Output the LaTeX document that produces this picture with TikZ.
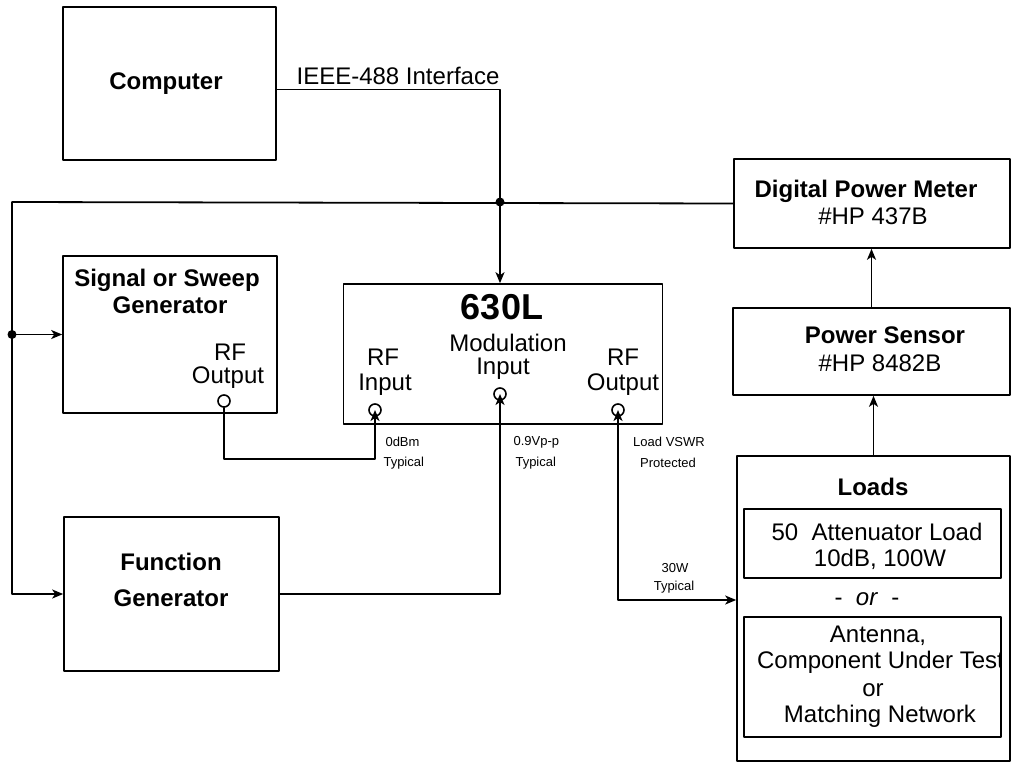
\documentclass[tikz,border=0pt]{standalone}
\usepackage{fontspec}
\setmainfont{Liberation Sans}
\usetikzlibrary{arrows.meta}
\tikzset{
	box/.style={draw,line width=1.6pt,inner sep=0pt},
	port/.style={draw,circle,line width=1.6pt,minimum size=12pt,inner sep=0pt,fill=white},
	wire/.style={line width=1.8pt},
	ttl/.style={font=\fontsize{24}{26}\selectfont\bfseries},
	txt/.style={font=\fontsize{24}{26}\selectfont},
	note/.style={font=\fontsize{13}{14}\selectfont},
}
\begin{document}
\begin{tikzpicture}[line join = round, line cap = round,>={Stealth[length=11pt,width=9pt,inset=3pt]},x=1pt,y=-1pt]
	\useasboundingbox (0,0) rectangle (1012,763);
	% instruments
	\node[box,minimum width=213pt,minimum height=153pt] (comp) at (169.5,83.5) {};
	\node[box,minimum width=214pt,minimum height=157pt] (sig) at (170,334.5) {};
	\node[box,minimum width=215pt,minimum height=154pt] (fgen) at (171.5,594) {};
	\node[box,minimum width=319pt,minimum height=140pt] (amp) at (503,354) {};
	\node[box,minimum width=276pt,minimum height=89pt] (dpm) at (872,203.5) {};
	\node[box,minimum width=277pt,minimum height=87pt] (sens) at (871.5,351.5) {};
	\node[box,minimum width=273pt,minimum height=305pt] (loads) at (873.5,608.5) {};
	\node[box,minimum width=257pt,minimum height=69pt] (att) at (872.5,543.5) {};
	\node[box,minimum width=257pt,minimum height=120pt] (dut) at (872.5,677) {};
	% connectors
	\node[port] (sigout) at (224,401) {};
	\node[port] (rfin) at (375,410) {};
	\node[port] (modin) at (500,394) {};
	\node[port] (rfout) at (618,410) {};
	% texts
	\node[ttl] (tcomp) at (166,84) {Computer};
	\node[txt] (tieee) at (398,76) {IEEE-488 Interface};
	\node[ttl] (tsig) at (167,280) {Signal or Sweep};
	\node[ttl] (tsig2) at (170,305) {Generator};
	\node[txt] (tso1) at (230,352) {RF};
	\node[txt] (tso2) at (228,378) {Output};
	\node[font=\fontsize{36}{38}\selectfont\bfseries] (tamp) at (502,307) {630L};
	\node[txt] (tmod1) at (508,343) {Modulation};
	\node[txt] (tmod2) at (503,369) {Input};
	\node[txt] (tri1) at (383,357) {RF};
	\node[txt] (tri2) at (385,385) {Input};
	\node[txt] (tro1) at (623,357) {RF};
	\node[txt] (tro2) at (623,385) {Output};
	\node[ttl] (tfg1) at (171,562) {Function};
	\node[ttl] (tfg2) at (171,598) {Generator};
	\node[ttl] (tdpm1) at (866,191) {Digital Power Meter};
	\node[txt] (tdpm2) at (873,216) {\#HP 437B};
	\node[ttl] (tsens1) at (885,335) {Power Sensor};
	\node[txt] (tsens2) at (880,363) {\#HP 8482B};
	\node[ttl] (tloads) at (873,487) {Loads};
	\node[txt] (tatt1) at (877,532) {50\ \ Attenuator Load};
	\node[txt] (tatt2) at (880,559) {10dB, 100W};
	\node[txt] (tor) at (867,599) {-\ \ \textit{or}\ \ -};
	\begin{scope}
		\clip (dut.south west) rectangle (dut.north east);
		\node[txt] (tdut1) at (878,636) {Antenna,};
		\node[txt] (tdut2) at (880.5,662) {Component Under Test};
		\node[txt] (tdut3) at (873,690) {or};
		\node[txt] (tdut4) at (880,716) {Matching Network};
	\end{scope}
	\node[note,anchor=west] (n1) at (382,442) {0dBm};
	\node[note,anchor=west] (n2) at (380,463) {Typical};
	\node[note,anchor=west] (n3) at (510,442) {0.9Vp-p};
	\node[note,anchor=west] (n4) at (512,463) {Typical};
	\node[note] (n5) at (669,442) {Load VSWR};
	\node[note] (n6) at (668,463) {Protected};
	\node[note] (n7) at (675,568) {30W};
	\node[note] (n8) at (674,587) {Typical};
	% wiring
	\coordinate (lt) at (12,202);
	\coordinate (jn) at (500,202);
	\draw[wire,->] ([yshift=-6pt]comp.east) -| (modin |- amp.north);
	\draw[wire,->] (dpm.west) -- (lt) |- (fgen.west);
	\draw[wire,->] (lt |- sig.west) -- (sig.west);
	\fill (jn) circle (4.5pt);
	\fill (lt |- sig.west) circle (4.5pt);
	\draw[wire,->] (sigout.south) -- ++(0,51) -| (rfin.center);
	\draw[wire,->] (fgen.east) -| (modin.center);
	\draw[wire,<->] (rfout.center) |- ([yshift=8.5pt]loads.west);
	\draw[wire,->] (sens.north) -- (sens.north |- dpm.south);
	\draw[wire,->] (loads.north) -- (loads.north |- sens.south);
\end{tikzpicture}
\end{document}
